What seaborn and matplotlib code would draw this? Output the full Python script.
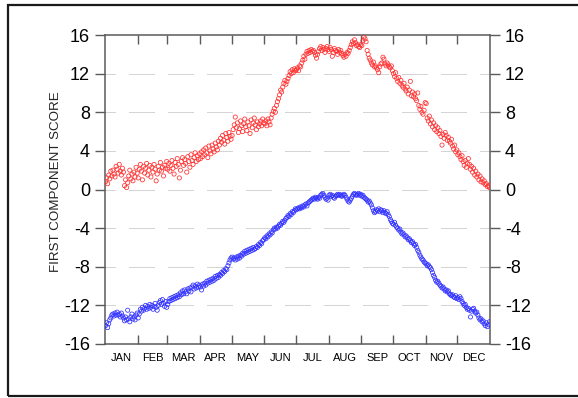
import numpy as np
import pandas as pd
import matplotlib
matplotlib.use("Agg")
import matplotlib.pyplot as plt
from matplotlib.patches import Rectangle
from matplotlib.ticker import FixedLocator, NullFormatter, FixedFormatter
import seaborn as sns

# Daily first-component scores, one value per day of the year (Jan 1 .. Dec 31)
upper_scores = [
    # Jan
    0.8, 1.2, 0.6, 1.5, 1.1, 1.9, 1.4, 2.0, 1.6, 1.3, 2.4, 2.1, 1.7, 2.6, 1.9, 1.5,
    2.2, 1.8, 0.4, 1.0, 0.2, 0.7, 1.4, 2.0, 1.1, 1.6, 0.9, 1.8, 1.3, 2.3, 1.7,
    # Feb
    1.2, 2.1, 2.6, 1.9, 1.0, 2.4, 1.7, 2.2, 2.7, 1.5, 2.0, 2.5, 1.3, 2.3, 1.8, 2.6,
    2.1, 0.9, 1.6, 2.4, 2.0, 2.8, 1.9, 2.3, 1.4, 2.5, 2.2, 2.9,
    # Mar
    2.1, 2.7, 1.9, 2.5, 3.0, 2.2, 1.6, 2.8, 2.4, 3.2, 2.6, 1.2, 2.0, 2.9, 3.3, 2.5,
    3.1, 2.7, 1.8, 3.4, 2.9, 2.3, 3.6, 3.0, 2.6, 3.3, 3.8, 2.9, 3.5, 3.1, 3.7,
    # Apr
    3.2, 3.9, 3.4, 4.1, 3.6, 4.3, 3.8, 3.3, 4.5, 4.0, 3.7, 4.6, 4.2, 3.9, 4.8, 4.4,
    4.1, 5.0, 4.6, 5.3, 4.9, 5.6, 5.1, 4.7, 5.8, 5.4, 5.0, 5.9, 5.5, 5.2,
    # May
    5.6, 6.2, 6.7, 7.5, 6.4, 6.9, 5.9, 6.3, 7.1, 6.6, 6.0, 6.8, 7.3, 6.5, 6.1, 7.0,
    6.6, 5.8, 7.2, 6.4, 6.9, 7.4, 6.7, 6.2, 7.0, 6.5, 6.8, 7.1, 6.6, 7.3, 6.9,
    # Jun
    6.8, 7.1, 6.6, 7.3, 7.0, 6.7, 7.4, 7.8, 8.1, 8.4, 8.0, 8.7, 9.1, 9.4, 9.8, 10.3,
    10.1, 10.6, 11.0, 11.3, 10.9, 11.2, 11.5, 11.8, 12.2, 12.0, 12.4, 12.1, 12.5, 12.3,
    # Jul
    12.4, 12.6, 12.3, 12.8, 12.7, 13.1, 13.4, 13.8, 13.5, 14.0, 14.3, 14.1, 14.4, 14.2,
    14.5, 14.3, 14.4, 14.2, 13.9, 13.6, 14.0, 14.3, 14.6, 14.8, 14.4, 14.7, 14.5, 14.2,
    14.6, 14.8, 14.5,
    # Aug
    14.3, 14.7, 14.5, 13.8, 14.2, 14.6, 14.4, 14.3, 14.0, 14.5, 14.2, 14.4, 14.1, 13.9,
    13.7, 14.0, 13.8, 14.2, 14.1, 14.4, 14.7, 15.0, 15.3, 15.1, 15.5, 15.2, 14.9, 15.0,
    14.8, 14.7, 15.0,
    # Sep
    14.9, 15.4, 15.8, 15.6, 15.3, 14.4, 14.0, 13.6, 13.4, 13.1, 12.9, 13.2, 12.7, 12.8,
    12.6, 12.4, 12.1, 12.7, 13.0, 13.1, 13.7, 13.5, 13.0, 12.8, 13.1, 12.9, 12.7, 12.6,
    12.8, 12.3,
    # Oct
    12.0, 11.7, 12.1, 11.5, 11.2, 11.6, 11.0, 11.3, 10.8, 10.6, 11.0, 10.4, 10.2, 10.6,
    9.9, 10.3, 11.2, 9.7, 10.1, 9.6, 9.9, 9.4, 9.2, 10.0, 8.7, 8.3, 8.6, 8.0, 7.8, 8.2, 9.0,
    # Nov
    8.9, 7.4, 7.1, 7.6, 6.8, 7.2, 6.5, 6.9, 6.2, 6.6, 6.0, 6.4, 5.8, 6.1, 5.5, 4.6,
    5.7, 5.3, 5.9, 5.6, 5.1, 5.4, 5.0, 4.8, 5.2, 4.5, 4.2, 4.6, 3.9, 4.1,
    # Dec
    3.6, 3.8, 3.4, 3.1, 3.5, 2.9, 2.5, 3.0, 2.3, 2.7, 3.2, 2.6, 2.1, 2.4, 1.8, 2.2,
    1.5, 1.9, 1.3, 1.6, 1.0, 1.4, 0.8, 1.1, 0.7, 0.9, 0.5, 0.6, 0.3, 0.4, 0.2,
]

lower_scores = [
    # Jan
    -14.1, -13.8, -14.3, -13.9, -13.5, -13.3, -13.0, -12.9, -13.1, -12.8, -13.0, -12.7,
    -13.0, -12.9, -13.2, -12.8, -13.1, -13.3, -13.6, -13.2, -13.5, -12.5, -13.4, -13.7,
    -13.2, -12.9, -13.4, -13.2, -13.5, -13.0, -12.8,
    # Feb
    -13.3, -12.9, -12.4, -12.6, -12.2, -12.5, -12.3, -12.0, -12.4, -12.1, -12.3, -11.9,
    -12.2, -12.0, -12.4, -12.1, -11.8, -12.2, -12.5, -12.0, -11.7, -11.5, -11.9, -11.4,
    -11.8, -12.1, -11.6, -12.2,
    # Mar
    -11.9, -11.6, -11.3, -11.5, -11.2, -11.4, -11.1, -11.3, -11.0, -11.2, -10.9, -11.1,
    -10.7, -10.9, -10.5, -10.8, -10.4, -10.6, -10.8, -10.3, -10.5, -10.2, -10.6, -10.1,
    -9.9, -10.3, -10.0, -10.2, -9.8, -10.1, -9.9,
    # Apr
    -10.1, -10.4, -9.8, -10.0, -9.7, -9.9, -9.5, -9.7, -9.4, -9.6, -9.3, -9.5, -9.2,
    -9.4, -9.0, -9.2, -8.9, -9.1, -8.8, -8.9, -8.6, -8.7, -8.4, -8.5, -8.2, -8.3, -7.9,
    -7.6, -7.3, -7.1,
    # May
    -7.0, -7.2, -7.1, -7.3, -7.0, -7.2, -6.9, -7.1, -6.8, -6.9, -6.6, -6.7, -6.4, -6.6,
    -6.3, -6.5, -6.2, -6.4, -6.1, -6.3, -6.0, -6.2, -6.1, -5.9, -6.0, -5.7, -5.8, -5.5,
    -5.6, -5.3, -5.2,
    # Jun
    -5.0, -5.1, -4.8, -4.9, -4.6, -4.7, -4.4, -4.5, -4.2, -4.0, -4.1, -3.9, -4.0, -3.8,
    -3.6, -3.7, -3.5, -3.3, -3.4, -3.2, -3.0, -2.9, -2.7, -2.8, -2.5, -2.6, -2.3, -2.4,
    -2.2, -2.0,
    # Jul
    -2.1, -2.0, -1.9, -2.0, -1.8, -1.9, -1.7, -1.8, -1.6, -1.5, -1.7, -1.4, -1.3, -1.2,
    -1.1, -1.0, -0.9, -1.0, -0.8, -0.9, -1.0, -0.8, -0.9, -0.6, -0.5, -0.4, -0.6, -0.8,
    -1.0, -0.9, -1.1,
    # Aug
    -0.6, -0.5, -0.7, -0.6, -0.8, -0.9, -0.7, -0.6, -0.5, -0.6, -0.5, -0.6, -0.7, -0.6,
    -0.5, -0.6, -0.8, -1.0, -1.2, -1.3, -1.1, -0.9, -0.7, -0.5, -0.4, -0.5, -0.6, -0.5,
    -0.4, -0.6, -0.5,
    # Sep
    -0.7, -0.6, -0.8, -0.9, -1.0, -1.1, -1.3, -1.2, -1.4, -1.6, -1.9, -2.2, -2.4, -2.3,
    -2.1, -2.2, -2.0, -2.3, -2.1, -2.2, -2.4, -2.2, -2.4, -2.5, -2.3, -2.6, -2.8, -3.1,
    -3.3, -3.5,
    # Oct
    -3.6, -3.4, -3.7, -3.9, -4.0, -4.2, -4.1, -4.4, -4.6, -4.5, -4.7, -4.9, -4.8, -5.0,
    -5.2, -5.1, -5.3, -5.5, -5.4, -5.6, -5.8, -5.7, -6.0, -6.3, -6.5, -6.8, -7.0, -7.2,
    -7.3, -7.5, -7.6,
    # Nov
    -7.7, -7.9, -7.8, -8.0, -8.1, -8.3, -8.6, -8.9, -9.1, -9.4, -9.6, -9.5, -9.7, -9.9,
    -10.0, -10.2, -10.1, -10.3, -10.5, -10.4, -10.6, -10.5, -10.8, -10.9, -11.0, -10.9,
    -11.1, -11.2, -11.0, -11.3,
    # Dec
    -11.2, -11.4, -11.1, -11.3, -11.6, -11.8, -12.0, -11.9, -12.2, -12.4, -12.3, -12.5,
    -13.2, -12.6, -12.4, -12.3, -12.6, -12.8, -12.7, -13.0, -13.3, -13.5, -13.4, -13.7,
    -13.6, -13.9, -14.1, -13.8, -14.2, -14.0, -13.7,
]

month_labels = ["JAN", "FEB", "MAR", "APR", "MAY", "JUN",
                "JUL", "AUG", "SEP", "OCT", "NOV", "DEC"]
month_lengths = [31, 28, 31, 30, 31, 30, 31, 31, 30, 31, 30, 31]
y_ticks = [-16, -12, -8, -4, 0, 4, 8, 12, 16]

sns.set_style("white")
plt.rcParams["font.family"] = ["Liberation Sans", "DejaVu Sans"]
plt.rcParams["axes.unicode_minus"] = False
plt.rcParams["lines.scale_dashes"] = False

month_edges = np.concatenate([[0], np.cumsum(month_lengths)])
month_mids = (month_edges[:-1] + month_edges[1:]) / 2.0

df = pd.DataFrame({
    "day": np.concatenate([np.arange(len(upper_scores)), np.arange(len(lower_scores))]) + 0.5,
    "score": upper_scores + lower_scores,
    "series": ["upper"] * len(upper_scores) + ["lower"] * len(lower_scores),
})

fig = plt.figure(figsize=(5.78, 3.98), dpi=100)
ax = fig.add_axes([105 / 578, 1 - 344 / 398, 385 / 578, 309 / 398])

# dotted grid segments at the inner y ticks: runs of fine dots separated by gaps
px = 0.72
grid_dashes = [px, px] * 12 + [px, 14 * px]
for yv in y_ticks[1:-1]:
    ax.axhline(yv, color="#9a9a9a", lw=0.6, linestyle=(15 * px, grid_dashes),
               dash_capstyle="butt", zorder=0)

colors = {"upper": "#ff3030", "lower": "#3030ff"}
for name in ["upper", "lower"]:
    sub = df[df["series"] == name]
    sns.scatterplot(data=sub, x="day", y="score", ax=ax, marker="o", s=9,
                    facecolor="none", edgecolor=colors[name], linewidth=0.55,
                    legend=False, zorder=3)

ax.set_xlim(0, month_edges[-1])
ax.set_ylim(-16, 16)

for side in ["left", "right", "top", "bottom"]:
    ax.spines[side].set_visible(True)
    ax.spines[side].set_color("#5a5a5a")
    ax.spines[side].set_linewidth(1.1)

# y axis: labels on both sides, ticks pointing outward
ax.yaxis.set_major_locator(FixedLocator(y_ticks))
ax.set_yticklabels([str(v) for v in y_ticks])
ax.tick_params(axis="y", which="major", direction="out", length=7.2, width=1.0,
               color="#5a5a5a", left=True, right=True, labelleft=True,
               labelright=True, labelsize=13, pad=3.6, labelcolor="black")

# x axis: month boundaries as inward ticks, names centred in each month
ax.xaxis.set_major_locator(FixedLocator(month_edges[1:-1]))
ax.xaxis.set_major_formatter(NullFormatter())
ax.xaxis.set_minor_locator(FixedLocator(month_mids))
ax.xaxis.set_minor_formatter(FixedFormatter(month_labels))
ax.tick_params(axis="x", which="major", direction="in", length=6.5, width=1.0,
               color="#5a5a5a", top=True, bottom=True)
ax.tick_params(axis="x", which="minor", length=0, labelsize=8, pad=6.2,
               labelcolor="black")

ax.set_xlabel("")
ax.set_ylabel("")
fig.text(56 / 578, 1 - 182 / 398, "FIRST COMPONENT SCORE", rotation=90,
         ha="center", va="center", fontsize=9.6, color="#222222")

# outer frame
fig.add_artist(Rectangle((8 / 578, 2 / 398), 1.0, 391 / 398,
                         transform=fig.transFigure, fill=False,
                         lw=1.6, ec="#1a1a1a"))

fig.savefig("out.png", dpi=100)
